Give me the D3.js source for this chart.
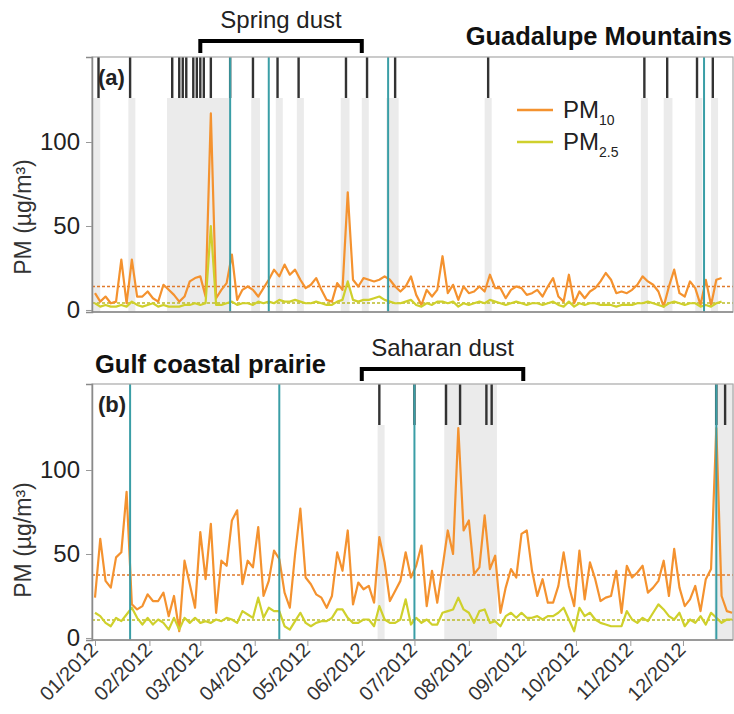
<!DOCTYPE html>
<html><head><meta charset="utf-8">
<script src="https://cdn.jsdelivr.net/npm/d3@7"></script>
<style>
body{margin:0;background:#fff;}
svg{font-family:"Liberation Sans",Arial,sans-serif;}
</style></head>
<body><svg id="c" width="734" height="714"></svg>
<script>
// ---- data (sampled every 3 days starting 2012-01-01) ----
const sampleStart = "2012-01-01";
const sampleStepDays = 3;
const monthTicks = ["2012-01-01","2012-02-01","2012-03-01","2012-04-01","2012-05-01","2012-06-01","2012-07-01","2012-08-01","2012-09-01","2012-10-01","2012-11-01","2012-12-01"];
const yTicks = [0, 50, 100];

const guadPM10 = [10,5,8,4,5,30,4,30,8,8,11,7,5,15,12,9,5,8,17,19,20,8,117,7,12,16,33,6,12,14,12,8,13,18,24,20,27,21,24,18,13,15,19,12,6,5,16,12,70,18,14,19,18,17,18,20,18,14,11,14,20,9,3,12,8,12,32,10,15,6,14,10,11,14,11,21,13,13,7,12,14,13,9,10,12,8,14,19,8,5,21,4,11,7,11,13,17,22,18,10,11,10,12,15,20,17,15,11,2,14,24,10,8,17,13,3,18,3,18,19];
const guadPM25 = [4,2,3,2,2,3,2,5,3,2,3,4,2,3,2,2,2,3,3,4,3,4,50,3,3,4,5,3,4,4,3,5,4,5,4,6,5,5,6,5,4,4,5,4,3,3,5,6,17,6,5,6,6,7,8,6,5,4,4,5,6,3,2,4,3,5,5,4,5,2,4,3,4,5,4,6,5,4,3,4,5,4,3,4,4,3,4,5,3,2,5,2,4,3,4,4,3,3,3,2,3,3,3,4,4,5,4,3,2,4,5,4,3,4,4,2,3,2,4,5];
const gulfPM10 = [24,59,34,30,48,51,87,20,17,19,26,22,22,27,13,25,4,46,32,18,63,35,68,15,46,43,70,76,32,46,42,66,25,34,52,47,27,18,50,77,36,32,26,24,18,25,51,40,64,20,33,29,31,21,60,45,22,28,34,51,36,43,55,19,40,21,42,64,50,125,64,70,38,42,73,41,49,15,30,41,36,62,64,40,25,35,21,21,31,51,31,19,52,23,45,35,22,24,25,40,15,43,36,39,43,27,30,34,46,25,53,30,19,23,31,16,35,41,125,25,16,15];
const gulfPM25 = [15,13,9,7,12,10,14,18,12,8,12,8,11,9,5,12,5,12,9,12,9,10,9,11,10,12,11,9,16,14,12,24,12,18,16,16,7,5,10,15,9,7,9,10,10,12,17,17,12,9,9,11,11,7,19,11,9,9,11,23,8,12,9,11,8,8,15,16,17,24,17,15,9,16,17,9,10,7,13,15,12,15,12,12,13,11,13,13,15,18,11,4,18,13,15,11,9,8,7,7,7,16,11,9,12,10,15,20,17,13,11,15,7,11,9,13,8,15,12,9,11,11];

const guadMeanPM10 = 14, guadMeanPM25 = 4.2;
const gulfMeanPM10 = 37.5, gulfMeanPM25 = 10.7;

const guadEvents = ["2012-01-03","2012-01-21","2012-02-14","2012-02-18","2012-02-20","2012-02-22","2012-02-26","2012-02-28","2012-03-01","2012-03-03","2012-03-07","2012-03-18","2012-03-31","2012-04-14","2012-04-26","2012-05-23","2012-06-04","2012-06-20","2012-08-12","2012-11-09","2012-11-22","2012-12-09","2012-12-18"];
const guadTeal = ["2012-03-18","2012-04-09","2012-06-16","2012-12-13"];
const guadBands = [["2011-12-30","2012-01-04"],["2012-01-20","2012-01-24"],["2012-02-11","2012-03-18"],["2012-03-30","2012-04-04"],["2012-04-13","2012-04-17"],["2012-04-25","2012-04-29"],["2012-05-20","2012-05-25"],["2012-06-01","2012-06-05"],["2012-06-15","2012-06-22"],["2012-08-10","2012-08-14"],["2012-11-07","2012-11-11"],["2012-11-20","2012-11-25"],["2012-12-08","2012-12-12"],["2012-12-17","2012-12-21"]];

const gulfEvents = ["2012-06-11","2012-07-01","2012-07-19","2012-07-27","2012-08-11","2012-08-14","2012-12-20","2012-12-25"];
const gulfTeal = ["2012-01-21","2012-04-15","2012-07-01","2012-12-20"];
const gulfBandsFull = [["2012-07-18","2012-08-17"],["2012-12-19","2012-12-31"]];
const gulfBandsBelow = [["2012-06-10","2012-06-14"]];

const springDust = ["2012-03-01","2012-06-01"];
const saharanDust = ["2012-06-01","2012-09-01"];

// ---- drawing ----
const P = d => new Date(d + "T00:00:00Z");
const start = P(sampleStart);
const dates = n => d3.range(n).map(i => d3.utcDay.offset(start, i * sampleStepDays));

const svg = d3.select("#c");
const xL = 92, xR = 733;
const x = d3.scaleUtc().domain([Date.UTC(2011,11,30,7), Date.UTC(2012,11,29,12)]).range([xL, xR]);

const C10 = "#f4922f", C25 = "#cfd02c", CM10 = "#e0792a", CM25 = "#bcbc2a", TEAL = "#3a9ea6";

function panel(cfg) {
  const y = d3.scaleLinear().domain(cfg.dom).range([cfg.y1, cfg.y0]);
  const g = svg.append("g");
  const markBottom = cfg.y0 + 41;
  g.selectAll(".bf").data(cfg.bandsFull).join("rect")
    .attr("x", d => Math.max(xL, x(P(d[0])))).attr("width", d => x(P(d[1])) - Math.max(xL, x(P(d[0]))))
    .attr("y", cfg.y0).attr("height", cfg.y1 - cfg.y0).attr("fill", "#ebebeb");
  g.selectAll(".bb").data(cfg.bandsBelow).join("rect")
    .attr("x", d => Math.max(xL, x(P(d[0])))).attr("width", d => x(P(d[1])) - Math.max(xL, x(P(d[0]))))
    .attr("y", markBottom).attr("height", cfg.y1 - markBottom).attr("fill", "#ebebeb");
  [[cfg.m10, CM10], [cfg.m25, CM25]].forEach(([m, c]) => {
    g.append("line").attr("x1", xL).attr("x2", xR).attr("y1", y(m)).attr("y2", y(m))
      .attr("stroke", c).attr("stroke-width", 1.6).attr("stroke-dasharray", "3,2");
  });
  const line = d3.line().x(d => x(d[0])).y(d => y(d[1]));
  [[cfg.pm10, C10], [cfg.pm25, C25]].forEach(([vals, c]) => {
    const ds = dates(vals.length);
    g.append("path").datum(vals.map((v, i) => [ds[i], v])).attr("d", line)
      .attr("fill", "none").attr("stroke", c).attr("stroke-width", 2.2).attr("stroke-linejoin", "round");
  });
  g.selectAll(".ev").data(cfg.events).join("line")
    .attr("x1", d => x(P(d))).attr("x2", d => x(P(d))).attr("y1", cfg.y0).attr("y2", markBottom)
    .attr("stroke", "#333").attr("stroke-width", 2.4);
  g.selectAll(".tl").data(cfg.teal).join("line")
    .attr("x1", d => x(P(d))).attr("x2", d => x(P(d))).attr("y1", cfg.y0).attr("y2", cfg.y1)
    .attr("stroke", TEAL).attr("stroke-width", 2);
  g.append("rect").attr("x", xL).attr("y", cfg.y0).attr("width", xR - xL).attr("height", cfg.y1 - cfg.y0)
    .attr("fill", "none").attr("stroke", "#a8a8a8").attr("stroke-width", 1.2);
  const ya = g.append("g").attr("transform", `translate(${xL},0)`)
    .call(d3.axisLeft(y).tickValues(yTicks).tickSize(6).tickPadding(6));
  ya.select(".domain").attr("stroke", "#8a8a8a").attr("stroke-width", 1.5);
  ya.selectAll(".tick line").attr("stroke", "#999");
  ya.selectAll(".tick text").attr("font-size", 24).attr("fill", "#222").attr("font-family", "Liberation Sans, Arial, sans-serif");
  g.append("line").attr("x1", xL).attr("x2", xR).attr("y1", cfg.y1).attr("y2", cfg.y1).attr("stroke", "#8a8a8a").attr("stroke-width", 1.5);
  g.append("text").attr("transform", `translate(31,${cfg.labelY}) rotate(-90)`).attr("text-anchor", "middle")
    .attr("font-size", 23).attr("fill", "#333").text("PM (µg/m³)");
  g.append("text").attr("x", 98).attr("y", cfg.y0 + 28).attr("font-size", 22).attr("font-weight", "bold")
    .attr("fill", "#222").text(cfg.letter);
  return {y, g};
}

const panelA = panel({y0: 57, y1: 312, dom: [-1.2, 150.6], pm10: guadPM10, pm25: guadPM25, m10: guadMeanPM10, m25: guadMeanPM25,
  events: guadEvents, teal: guadTeal, bandsFull: [], bandsBelow: guadBands, labelY: 217, letter: "(a)"});
const panelB = panel({y0: 384, y1: 640, dom: [-1.2, 151.2], pm10: gulfPM10, pm25: gulfPM25, m10: gulfMeanPM10, m25: gulfMeanPM25,
  events: gulfEvents, teal: gulfTeal, bandsFull: gulfBandsFull, bandsBelow: gulfBandsBelow, labelY: 540, letter: "(b)"});

// x axis: ticks via d3.axisBottom, labels rotated
const xa = svg.append("g").attr("transform", "translate(0,640)")
  .call(d3.axisBottom(x).tickValues(monthTicks.map(P)).tickFormat("").tickSize(6));
xa.select(".domain").remove();
xa.selectAll(".tick line").attr("stroke", "#999");
const fmt = d3.utcFormat("%m/%Y");
svg.append("g").selectAll("text").data(monthTicks.map(P)).join("text")
  .attr("transform", d => `translate(${x(d) + 4},651) rotate(-45)`)
  .attr("text-anchor", "end").attr("font-size", 20).attr("fill", "#333")
  .text(d => fmt(d));

svg.append("text").attr("x", 732).attr("y", 45).attr("text-anchor", "end").attr("font-size", 25.5).attr("font-weight", "bold").attr("fill", "#111").text("Guadalupe Mountains");
svg.append("text").attr("x", 95).attr("y", 373).attr("font-size", 25.5).attr("font-weight", "bold").attr("fill", "#111").text("Gulf coastal prairie");

function bracket(range, yb, label, ty) {
  const a = x(P(range[0])), b = x(P(range[1]));
  svg.append("path").attr("d", `M${a},${yb + 12}V${yb}H${b}V${yb + 12}`).attr("fill", "none").attr("stroke", "#000").attr("stroke-width", 4);
  svg.append("text").attr("x", (a + b) / 2).attr("y", ty).attr("text-anchor", "middle").attr("font-size", 24).attr("fill", "#222").text(label);
}
bracket(springDust, 41, "Spring dust", 28);
bracket(saharanDust, 369, "Saharan dust", 356);

const lg = svg.append("g");
[[C10, "10", 110], [C25, "2.5", 142]].forEach(([c, sub, ly]) => {
  lg.append("line").attr("x1", 517).attr("x2", 553).attr("y1", ly).attr("y2", ly).attr("stroke", c).attr("stroke-width", 2.5);
  const t = lg.append("text").attr("x", 563).attr("y", ly + 8).attr("font-size", 24).attr("fill", "#222");
  t.append("tspan").text("PM");
  t.append("tspan").attr("font-size", 14).attr("dy", 7).text(sub);
});
</script></body></html>
